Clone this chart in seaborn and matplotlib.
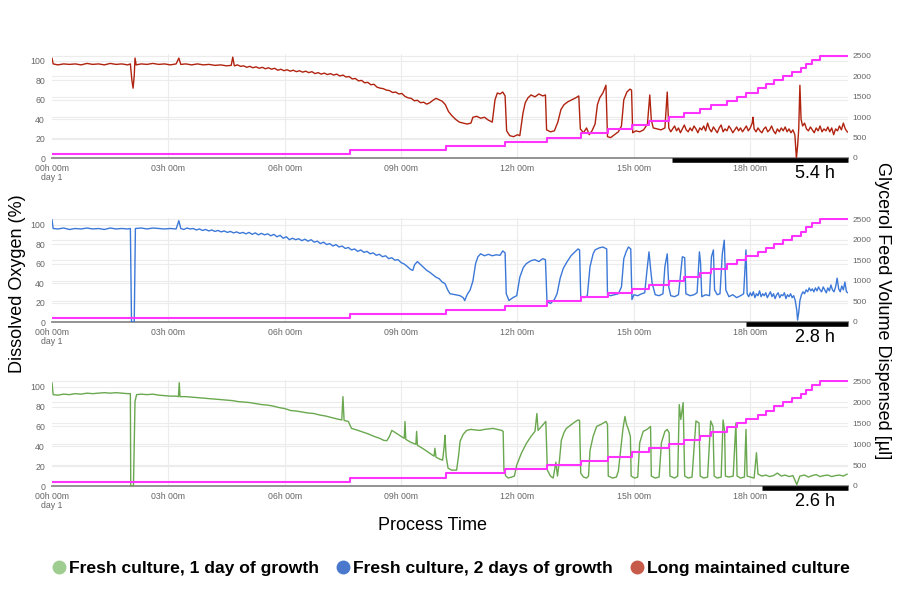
import matplotlib
matplotlib.use("Agg")
import matplotlib.pyplot as plt
import seaborn as sns
from matplotlib.lines import Line2D

sns.set_theme(style="white")
plt.rcParams['font.family'] = ['Liberation Sans', 'DejaVu Sans']
plt.rcParams['text.color'] = 'black'

# ---------------- data (hours, % DO) ----------------
red_t = [0.00, 0.03, 0.15, 0.3, 0.45, 0.6, 0.75, 0.9, 1.05, 1.2, 1.35, 1.5, 1.65, 1.8, 1.95, 2.02, 2.06, 2.09, 2.12, 2.14,
         2.17, 2.3, 2.45, 2.6, 2.75, 2.9, 3.05, 3.2, 3.27, 3.32, 3.45, 3.6, 3.75, 3.9, 4.05, 4.2, 4.35, 4.5, 4.62, 4.66,
         4.70, 4.78, 4.86, 4.94, 5.02, 5.10, 5.18, 5.26, 5.34, 5.42, 5.50, 5.58, 5.66, 5.74, 5.82, 5.90, 5.98, 6.06, 6.14, 6.22,
         6.30, 6.38, 6.46, 6.54, 6.62, 6.70, 6.78, 6.86, 6.94, 7.02, 7.10, 7.18, 7.26, 7.34, 7.42, 7.50, 7.58, 7.66, 7.74, 7.82,
         7.90, 7.98, 8.06, 8.14, 8.22, 8.30, 8.38, 8.46, 8.54, 8.62, 8.70, 8.78, 8.86, 8.94, 9.02, 9.10, 9.18, 9.26, 9.34, 9.42,
         9.50, 9.58, 9.66, 9.74, 9.82, 9.90, 9.98, 10.06, 10.14, 10.22, 10.30,
         10.4, 10.5, 10.6, 10.7, 10.8, 10.85, 10.95, 11.05, 11.15, 11.25, 11.35, 11.42, 11.48, 11.55, 11.62, 11.68, 11.72, 11.8, 11.9, 12.0,
         12.06, 12.14, 12.2, 12.27, 12.35, 12.45, 12.55, 12.65, 12.72, 12.75, 12.85, 12.95, 13.04, 13.12, 13.2, 13.3, 13.4, 13.5, 13.58, 13.62,
         13.7, 13.78, 13.85, 13.92, 14.0, 14.06, 14.12, 14.2, 14.28, 14.32, 14.4, 14.5, 14.6, 14.68, 14.74, 14.82, 14.9, 14.94, 14.97, 15.05,
         15.15, 15.25, 15.35, 15.41, 15.45, 15.5, 15.6, 15.7, 15.8, 15.86,
         15.9, 15.95, 16.0, 16.05, 16.1, 16.15, 16.2, 16.25, 16.3, 16.35, 16.4, 16.45, 16.5, 16.55, 16.6, 16.65, 16.7, 16.75, 16.8, 16.85,
         16.9, 16.95, 17.0, 17.05, 17.1, 17.15, 17.2, 17.25, 17.3, 17.35, 17.4, 17.45, 17.5, 17.55, 17.6, 17.65, 17.7, 17.75, 17.8, 17.85,
         17.9, 17.95, 18.0, 18.05, 18.07, 18.1, 18.15, 18.2, 18.25, 18.3, 18.35, 18.4, 18.45, 18.5, 18.55, 18.6, 18.65, 18.7, 18.75, 18.8,
         18.85, 18.9, 18.95, 19.0, 19.05, 19.1, 19.15, 19.19, 19.22, 19.25, 19.28, 19.31, 19.35, 19.4, 19.45, 19.5, 19.55, 19.6, 19.65, 19.7,
         19.75, 19.8, 19.85, 19.9, 19.95, 20.0, 20.05, 20.1, 20.15, 20.2, 20.25, 20.3, 20.35, 20.4, 20.45, 20.5, 20.55]
red_v = [103, 97, 96, 97, 96.5, 97, 96, 97.5, 96.5, 97, 96, 97.5, 96.5, 97, 96, 97, 80, 72, 85, 103,
         96, 97, 96.5, 97.5, 96.5, 97, 96, 97, 103, 96.5, 97, 96, 97, 96, 96.5, 95.5, 96, 95, 95.5, 104,
         95, 96, 94.5, 95, 93.5, 94.5, 93, 94, 92.5, 93.5, 92, 93, 91.5, 92.5, 90.5, 91.5, 90, 91, 89.5, 90.5,
         89, 90, 88.5, 89.5, 88, 89, 87, 88, 86.5, 87.5, 86, 87, 85.5, 86.5, 84.5, 85.5, 83.5, 84, 81.5, 82,
         79.5, 80, 77.5, 78, 75.5, 76, 73, 72, 71.5, 70, 69.5, 67.5, 68, 66, 66.5, 63.5, 62, 61.5, 59, 59.5,
         57, 57.5, 55.5, 57, 59.5, 61.5, 60, 58.5, 55, 48, 44,
         40, 37, 36, 35, 36, 42, 43, 41, 42, 39, 37, 60, 67, 66, 68, 64, 28, 23, 22, 24,
         23, 46, 57, 62, 65, 63, 66, 64, 65, 29, 27, 28, 37, 50, 55, 58, 60, 62, 64, 30,
         26, 31, 24, 28, 35, 55, 62, 67, 75, 22, 21, 24, 27, 33, 60, 68, 71, 70, 26, 28,
         27, 29, 35, 65, 39, 31, 30, 29, 31, 68,
         31, 27, 30, 33, 28, 31, 26, 30, 34, 29, 27, 31, 28, 33, 30, 26, 31, 29, 33, 28,
         36, 30, 27, 32, 29, 26, 31, 34, 27, 30, 28, 33, 30, 26, 29, 32, 28, 31, 27, 30,
         33, 28, 31, 36, 42, 30, 27, 31, 28, 26, 30, 32, 27, 29, 33, 28, 25, 30, 27, 31,
         28, 32, 27, 30, 26, 29, 24, 0, 12, 30, 75, 40, 33, 36, 30, 28, 32, 29, 26, 31,
         28, 33, 27, 30, 28, 32, 27, 31, 24, 30, 28, 33, 29, 36, 30, 27, 26]

blue_t = [0.00, 0.03, 0.15, 0.3, 0.45, 0.6, 0.75, 0.9, 1.05, 1.2, 1.35, 1.5, 1.65, 1.8, 1.95, 2.02, 2.05, 2.12, 2.15, 2.3,
          2.45, 2.6, 2.75, 2.9, 3.05, 3.2, 3.27,
          3.32, 3.40, 3.48, 3.56, 3.64, 3.72, 3.80, 3.88, 3.96, 4.04, 4.12, 4.20, 4.28, 4.36, 4.44, 4.52, 4.60, 4.68, 4.76, 4.84,
          4.92, 5.00, 5.08, 5.16, 5.24, 5.32, 5.40, 5.48, 5.56, 5.64, 5.72, 5.80, 5.88, 5.96, 6.04, 6.12, 6.20, 6.28, 6.36, 6.44,
          6.52, 6.60, 6.68, 6.76, 6.84, 6.92, 7.00, 7.08, 7.16, 7.24, 7.32, 7.40, 7.48, 7.56, 7.64, 7.72, 7.80, 7.88, 7.96, 8.04,
          8.12, 8.20, 8.28, 8.36, 8.44, 8.52, 8.60, 8.68, 8.76, 8.84, 8.92, 9.00, 9.08, 9.16, 9.24, 9.30, 9.35, 9.42, 9.50, 9.58,
          9.66, 9.74, 9.82, 9.90, 9.98, 10.06, 10.13, 10.20, 10.26, 10.4, 10.52,
          10.6, 10.64, 10.7, 10.78, 10.85, 10.92, 10.98, 11.05, 11.15, 11.25, 11.35, 11.45, 11.55, 11.62, 11.68, 11.71, 11.78, 11.88, 11.98, 12.06,
          12.15, 12.23, 12.35, 12.45, 12.55, 12.65, 12.72, 12.76, 12.85, 12.95, 13.02, 13.1, 13.18, 13.28, 13.38, 13.48, 13.56, 13.6, 13.63, 13.72,
          13.8, 13.87, 13.95, 14.0, 14.1, 14.2, 14.3, 14.32, 14.4, 14.5, 14.6, 14.68, 14.74, 14.8, 14.86, 14.92, 14.95, 15.0, 15.1, 15.2,
          15.28, 15.33, 15.39, 15.43, 15.47, 15.55, 15.65, 15.75, 15.8, 15.86, 15.9, 15.95, 16.05, 16.15, 16.25, 16.31, 16.34, 16.45, 16.55, 16.63,
          16.69, 16.72, 16.75, 16.85, 16.95, 17.0, 17.05, 17.08, 17.15, 17.22, 17.28, 17.33, 17.37, 17.45, 17.55, 17.65, 17.75, 17.83, 17.89,
          17.92, 17.96, 18.0, 18.04, 18.08, 18.12, 18.16, 18.2, 18.24, 18.28, 18.32, 18.36, 18.4, 18.44, 18.48, 18.52, 18.56, 18.6, 18.64, 18.68,
          18.72, 18.76, 18.8, 18.84, 18.88, 18.92, 18.96, 19.0, 19.04, 19.08, 19.12, 19.16, 19.2, 19.22, 19.25, 19.28, 19.32, 19.36, 19.4, 19.44,
          19.48, 19.52, 19.56, 19.6, 19.64, 19.68, 19.72, 19.76, 19.8, 19.84, 19.88, 19.92, 19.96, 20.0, 20.04, 20.08, 20.12, 20.16, 20.2, 20.24,
          20.28, 20.32, 20.36, 20.4, 20.44, 20.48, 20.52, 20.55]
blue_v = [105, 96, 95.5, 96.5, 95, 96, 95.5, 96.5, 95.5, 96, 95, 96.5, 95.5, 96, 95.5, 96, 0, 0, 96, 96.5,
          95.5, 96.5, 96, 95.5, 96, 95.5, 104,
          96, 95, 96.5, 95.5, 96, 94.5, 95.5, 94, 95, 93.5, 94.5, 93, 94, 92.5, 93.5, 92, 93, 91.5, 92.5, 91,
          92, 90.5, 92, 90, 91.5, 89.5, 91, 89.5, 90.5, 88.5, 90, 87.5, 89, 86, 87.5, 84.5, 86, 84.5, 85.5, 83.5,
          85, 83, 84.5, 82, 83, 80.5, 82, 79.5, 80.5, 78, 79.5, 77, 78, 75.5, 76.5, 74, 75, 72.5, 74, 71.5,
          72.5, 70, 71, 68.5, 69.5, 67, 68, 65, 66, 63.5, 64, 61, 59.5, 57, 54, 53, 59, 62, 59, 56,
          53, 51, 48.5, 46, 44.5, 41, 39.5, 33, 29, 28, 27,
          25, 22, 28, 33, 42, 60, 67, 70, 68, 69.5, 68, 69, 68.5, 73, 71, 29, 22, 25, 27, 46,
          56, 60, 63, 64, 62, 65, 64, 21, 19, 23, 29, 45, 55, 62, 68, 72, 75, 74, 26, 25,
          27, 57, 70, 74, 76, 77, 75, 28, 27, 28, 29, 36, 65, 72, 77, 75, 23, 28, 27, 29,
          30, 50, 72, 55, 40, 28, 27, 29, 57, 70, 36, 27, 26, 28, 67, 66, 29, 27, 28, 30,
          72, 60, 26, 28, 27, 67, 74, 33, 28, 29, 70, 84, 33, 26, 28, 25, 27, 29, 74,
          29, 26, 30, 27, 31, 25, 29, 27, 32, 26, 29, 27, 30, 25, 28, 31, 26, 29, 24, 28,
          30, 25, 28, 27, 30, 24, 28, 26, 29, 25, 27, 22, 12, 2, 10, 22, 28, 31, 29, 33,
          31, 35, 32, 34, 31, 35, 32, 36, 33, 31, 36, 33, 30, 35, 32, 38, 33, 31, 36, 45,
          34, 31, 37, 33, 41, 31, 30, 29]

green_t = [0.00, 0.03, 0.15, 0.3, 0.45, 0.6, 0.75, 0.9, 1.05, 1.2, 1.35, 1.5, 1.65, 1.8, 1.95, 2.02, 2.03, 2.1, 2.14, 2.18,
           2.3, 2.45, 2.6, 2.75, 2.9, 3.05, 3.2, 3.26, 3.28, 3.3, 3.45, 3.6, 3.75, 3.9, 4.05, 4.2, 4.35, 4.5, 4.65, 4.8,
           4.95, 5.1, 5.25, 5.4, 5.55, 5.7, 5.85, 6.0, 6.15, 6.3, 6.45, 6.6, 6.75, 6.9, 7.05, 7.2, 7.35, 7.47, 7.5, 7.53,
           7.64, 7.72, 7.85, 8.0, 8.15, 8.3, 8.45, 8.55, 8.63, 8.7, 8.76, 8.88, 9.0, 9.08, 9.1, 9.12, 9.25, 9.38, 9.4, 9.42,
           9.55, 9.7, 9.85, 9.87, 9.9, 10.0, 10.07, 10.11, 10.13, 10.16, 10.21, 10.3, 10.43, 10.48, 10.52, 10.6, 10.69, 10.8, 10.9, 11.03,
           11.15, 11.25, 11.37, 11.48, 11.59, 11.63, 11.65, 11.7, 11.76, 11.85, 11.92, 11.98, 12.1, 12.23, 12.35, 12.45, 12.5, 12.53, 12.62, 12.73,
           12.77, 12.85, 12.92, 12.99, 13.03, 13.08, 13.13, 13.2, 13.26, 13.36, 13.46, 13.56, 13.6, 13.63, 13.7, 13.78, 13.83, 13.87, 13.95, 14.04,
           14.15, 14.28, 14.32, 14.34, 14.45, 14.55, 14.6, 14.64, 14.72, 14.77, 14.81, 14.85, 14.91, 14.93, 15.02, 15.1, 15.15, 15.24, 15.34, 15.43,
           15.45, 15.55, 15.65, 15.71, 15.8, 15.86, 15.91, 15.93, 16.05, 16.13, 16.17, 16.21, 16.27, 16.31, 16.4, 16.5, 16.6, 16.68, 16.71, 16.8,
           16.9, 16.98, 17.04, 17.07, 17.15, 17.25, 17.3, 17.34, 17.36, 17.45, 17.56, 17.63, 17.66, 17.75, 17.85, 17.89, 17.92, 18.0, 18.1, 18.16,
           18.2, 18.3, 18.4, 18.5, 18.6, 18.7, 18.8, 18.9, 19.0, 19.1, 19.2, 19.28, 19.4, 19.5, 19.6, 19.7, 19.8, 19.9, 20.0, 20.1,
           20.2, 20.3, 20.4, 20.5]
green_v = [104, 92, 91.5, 92.5, 92, 93, 92.5, 93.5, 93, 93.5, 94, 93.5, 94, 93.5, 93, 93, 0, 0, 85, 92,
           92.5, 92, 92.5, 91.5, 91, 90.5, 90.5, 90, 104, 90, 90, 89.5, 89, 88.5, 88, 87.5, 87, 86.5, 86, 85,
           84.5, 84, 83, 82, 81.5, 80.5, 79, 78, 76, 75.5, 74.5, 73.5, 73, 71.5, 70.5, 69, 67.5, 66.5, 90, 66,
           65, 58, 56.5, 54.5, 52.5, 50, 48, 46, 45.6, 50, 56, 53, 50, 48, 65, 47, 44, 42, 55, 41,
           38, 34, 30, 38, 29, 27, 26, 40, 51, 30, 18, 16, 16, 30, 45, 52, 56, 57, 56.5, 56,
           57, 57.5, 58, 57, 56, 55, 16, 10, 8, 9, 10, 21, 33, 43, 50, 55, 73, 56, 60, 65,
           16, 10, 8, 24, 10, 25, 46, 54, 58, 61, 64, 66.5, 66, 13, 9, 8, 10, 36, 50, 60,
           62, 65, 62, 10, 8, 9, 15, 29.5, 58, 70, 62, 58, 50, 10, 8, 9, 43.5, 55, 57, 60,
           10, 8, 9, 43.5, 55, 57, 53.5, 10, 8, 10, 82, 67, 84, 10, 8, 9, 65.5, 63.5, 10, 8,
           9, 65.5, 60, 10, 8, 9, 66.5, 55, 10, 9, 10, 63.5, 10, 8, 9, 57, 10, 9, 8, 33.5,
           12, 10, 11, 9.5, 10.5, 13, 10, 11, 9.5, 10.5, 1.5, 10, 11, 9, 10.5, 11.5, 9.5, 10.5, 11, 9.5,
           10.5, 11, 10, 12]

# glycerol feed (hours, µl), step changes
feed_t = [0, 7.68, 10.15, 11.68, 12.77, 13.63, 14.33, 14.94, 15.4, 15.9, 16.3, 16.7, 17.0, 17.4, 17.65,
          17.9, 18.2, 18.4, 18.6, 18.85, 19.07, 19.3, 19.45, 19.6, 19.8, 20.55]
feed_v = [100, 200, 300, 400, 500, 600, 700, 800, 900, 1000, 1100, 1200, 1300, 1400, 1500,
          1600, 1700, 1800, 1900, 2000, 2100, 2200, 2300, 2400, 2500, 2500]

phase_start = [15.98, 17.89, 18.3]
phase_labels = ["5.4 h", "2.8 h", "2.6 h"]

tick_hours = [0, 3, 6, 9, 12, 15, 18]
tick_labels = ["00h 00m\nday 1", "03h 00m", "06h 00m", "09h 00m", "12h 00m", "15h 00m", "18h 00m"]
do_ticks = [0, 20, 40, 60, 80, 100]
feed_ticks = [0, 500, 1000, 1500, 2000, 2500]

series_names = ["Fresh culture, 1 day of growth", "Fresh culture, 2 days of growth", "Long maintained culture"]
legend_colors = ["#9fcd8f", "#4a78cc", "#c65b4a"]

# ---------------- figure ----------------
W, H = 900, 600
fig = plt.figure(figsize=(9, 6), dpi=100)
fig.patch.set_facecolor("white")

YMAX = 107
R = 2500 / 105.5
XMAX = 20.52
panels = [
    (red_t, red_v, "#b0230f", 158, 0.97),
    (blue_t, blue_v, "#3c78d8", 322, 0.974),
    (green_t, green_v, "#6aa84f", 486, 0.993),
]
grid_c = "#ececec"
lab_c = "#666666"
for i, (tt, vv, col, bottom_px, sc) in enumerate(panels):
    h_px = YMAX * sc
    ax = fig.add_axes([52 / W, 1 - bottom_px / H, 796 / W, h_px / H])
    ax.set_xlim(0, XMAX)
    ax.set_ylim(0, YMAX)
    for s in ["top", "right", "left"]:
        ax.spines[s].set_visible(False)
    ax.spines["bottom"].set_color("#8a8a8a")
    ax.spines["bottom"].set_linewidth(1.3)
    ax.set_yticks(do_ticks)
    ax.set_xticks(tick_hours)
    ax.set_xticklabels(tick_labels, linespacing=1.1)
    ax.tick_params(axis="y", length=0, pad=5, labelsize=6.3, labelcolor=lab_c)
    ax.tick_params(axis="x", length=0, pad=4, labelsize=6.3, labelcolor=lab_c)
    for v in do_ticks[1:]:
        ax.axhline(v, color=grid_c, lw=0.8, zorder=0)
    for v in feed_ticks[1:]:
        ax.axhline(v / R, color=grid_c, lw=0.8, zorder=0)
    for v in tick_hours[1:]:
        ax.axvline(v, color=grid_c, lw=0.8, zorder=0)

    sns.lineplot(x=tt, y=vv, ax=ax, color=col, lw=1.0, estimator=None, sort=False, zorder=3)

    ax2 = ax.twinx()
    ax2.set_ylim(0, YMAX * R)
    for s in ax2.spines.values():
        s.set_visible(False)
    ax2.set_yticks(feed_ticks)
    ax2.tick_params(axis="y", length=0, pad=3, labelsize=6.0, labelcolor=lab_c)
    ax2.grid(False)
    sns.lineplot(x=feed_t, y=feed_v, ax=ax2, color="#ff33ff", lw=1.5, drawstyle="steps-post",
                 estimator=None, sort=False)
    ax2.set_ylabel("")
    ax.set_ylabel("")

    # black bar marking the final phase + duration label
    ax.plot([phase_start[i], XMAX], [-2.3 / sc, -2.3 / sc], color="black", lw=3.3,
            solid_capstyle="butt", clip_on=False, zorder=10)
    ax.annotate(phase_labels[i], xy=(19.66, 0), xytext=(0, -11), textcoords="offset points",
                ha="center", va="center", fontsize=13, color="black", annotation_clip=False)

fig.text(18 / W, 1 - 284 / H, "Dissolved Oxygen (%)", rotation=90, ha="center", va="center",
         fontsize=13, color="black")
fig.text(883 / W, 1 - 311 / H, "Glycerol Feed Volume Dispensed [µl]", rotation=-90, ha="center",
         va="center", fontsize=13, color="black")
fig.text(432 / W, 1 - 525 / H, "Process Time", ha="center", va="center", fontsize=13, color="black")

handles = [Line2D([], [], ls="", marker="o", markersize=9, markerfacecolor=c, markeredgecolor=c)
           for c in legend_colors]
leg = fig.legend(handles, series_names, loc="center", bbox_to_anchor=(450 / W, 1 - 568 / H), ncol=3,
                 frameon=False, handletextpad=0.05, columnspacing=0.9, handlelength=1.0,
                 prop={"weight": "bold", "size": 12.6})
for t in leg.get_texts():
    t.set_color("black")

fig.savefig("out.png", dpi=100)
